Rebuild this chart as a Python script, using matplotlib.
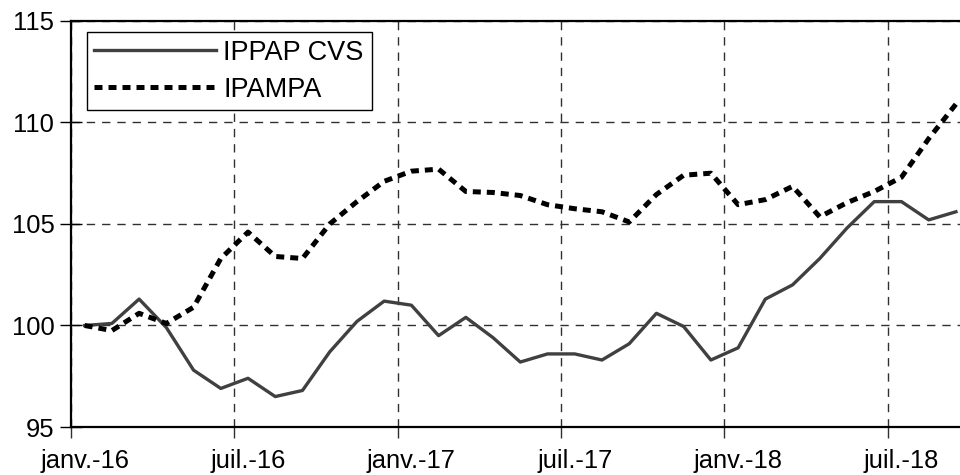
import matplotlib
matplotlib.use("Agg")
import matplotlib.pyplot as plt
import numpy as np

plt.rcParams['font.family'] = ['Liberation Sans', 'DejaVu Sans']

tick_labels = ["janv.-16", "juil.-16", "janv.-17", "juil.-17", "janv.-18", "juil.-18"]
tick_months = [0, 6, 12, 18, 24, 30]

ippap_cvs = [100.0, 100.1, 101.3, 99.9, 97.8, 96.9, 97.4, 96.5, 96.8, 98.7,
             100.2, 101.2, 101.0, 99.5, 100.4, 99.4, 98.2, 98.6, 98.6, 98.3,
             99.1, 100.6, 99.95, 98.3, 98.9, 101.3, 102.0, 103.3, 104.8, 106.1,
             106.1, 105.2, 105.6]
ipampa = [100.0, 99.75, 100.6, 100.1, 100.9, 103.3, 104.6, 103.4, 103.3, 105.0,
          106.1, 107.1, 107.6, 107.7, 106.6, 106.55, 106.4, 105.95, 105.75, 105.6,
          105.1, 106.45, 107.4, 107.5, 105.95, 106.2, 106.85, 105.35, 106.05, 106.6,
          107.3, 109.2, 110.9]

# category centres (Excel style: points between tick marks)
months = np.arange(len(ippap_cvs)) + 0.5
label_pos = np.array(tick_months) + 0.5

fig = plt.figure(figsize=(9.6, 4.75), dpi=100)
ax = fig.add_axes([0.074, 0.101, 0.926, 0.855])

ax.plot(months, ippap_cvs, color='#404040', lw=2.4, label='IPPAP CVS', zorder=3)
ax.plot(months, ipampa, color='black', lw=3.6, linestyle=(0, (1.6, 1.2)),
        dash_capstyle='butt', label='IPAMPA', zorder=3)

ax.set_xlim(0, 32.65)
ax.set_ylim(95, 115)
ax.set_yticks([95, 100, 105, 110, 115])
ax.set_xticks(tick_months)
ax.set_xticklabels([])
ax.set_xticks(label_pos, minor=True)
ax.set_xticklabels(tick_labels, minor=True)

ax.grid(True, which='major', color='#303030', lw=1.0, linestyle=(0, (6, 5)), zorder=1)

for s in ['left', 'bottom', 'top']:
    ax.spines[s].set_color('black')
    ax.spines[s].set_linewidth(1.6)
ax.spines['right'].set_visible(False)

ax.tick_params(axis='y', direction='inout', length=16, width=1, labelsize=18.4, pad=4)
ax.tick_params(axis='x', which='major', direction='out', length=8, width=1, color='#303030')
ax.tick_params(axis='x', which='minor', length=0, labelsize=18.4, pad=16)

leg = ax.legend(loc='upper left', bbox_to_anchor=(0.0175, 0.973), fontsize=19.5,
                frameon=True, fancybox=False, edgecolor='black', handlelength=4.5,
                borderpad=0.29, handletextpad=0.26, labelspacing=0.4, borderaxespad=0)
leg.get_frame().set_linewidth(1.0)
leg.get_frame().set_alpha(1)

fig.savefig('out.png', dpi=100)
